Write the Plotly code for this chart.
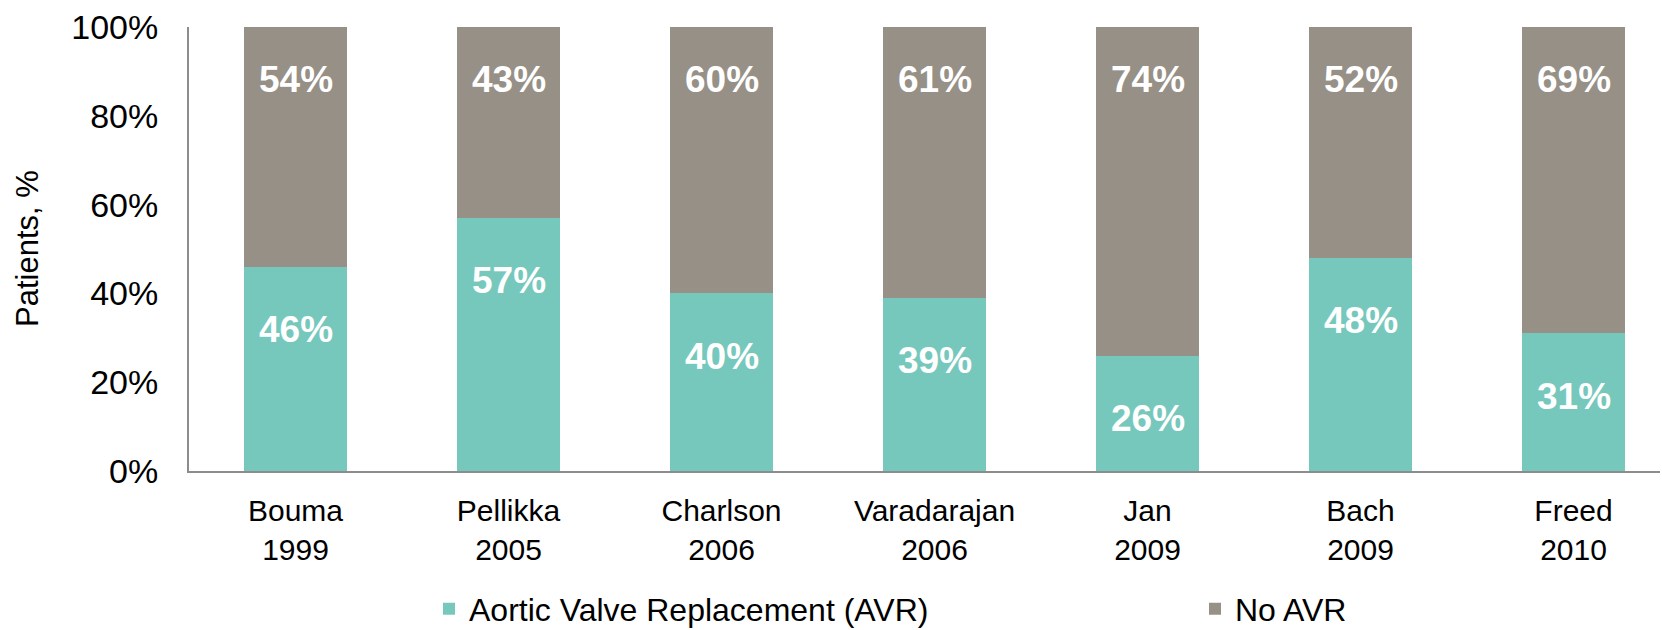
import plotly.graph_objects as go

categories = ["Bouma<br>1999", "Pellikka<br>2005", "Charlson<br>2006", "Varadarajan<br>2006",
              "Jan<br>2009", "Bach<br>2009", "Freed<br>2010"]
avr = [46, 57, 40, 39, 26, 48, 31]
no_avr = [54, 43, 60, 61, 74, 52, 69]
y_ticks = [0, 20, 40, 60, 80, 100]
y_tick_labels = ["0%", "20%", "40%", "60%", "80%", "100%"]

TEAL = "#77C8BC"
GRAY = "#979086"
FONT = "Liberation Sans, Arial, sans-serif"
BAR_W = 0.485

fig = go.Figure()
fig.add_trace(go.Bar(
    x=categories, y=avr, name="Aortic Valve Replacement (AVR)",
    marker=dict(color=TEAL, line=dict(width=0)), width=BAR_W, legend="legend",
    hoverinfo="skip",
))
fig.add_trace(go.Bar(
    x=categories, y=no_avr, name="No AVR",
    marker=dict(color=GRAY, line=dict(width=0)), width=BAR_W, legend="legend2",
    hoverinfo="skip",
))

annotations = []
for c, a, n in zip(categories, avr, no_avr):
    annotations.append(dict(
        x=c, y=a, xref="x", yref="y", text=f"<b>{a}%</b>", showarrow=False,
        yanchor="middle", yshift=-63,
        font=dict(family=FONT, size=37, color="white"),
    ))
    annotations.append(dict(
        x=c, y=a + n, xref="x", yref="y", text=f"<b>{n}%</b>", showarrow=False,
        yanchor="middle", yshift=-52,
        font=dict(family=FONT, size=37, color="white"),
    ))
annotations.append(dict(
    x=(27 - 189) / 1471, y=0.5, xref="paper", yref="paper", text="Patients, %",
    showarrow=False, textangle=-90, xanchor="center", yanchor="middle",
    font=dict(family=FONT, size=31, color="black"),
))

fig.update_layout(
    width=1662, height=630,
    margin=dict(l=189, r=2, t=27, b=159, autoexpand=False),
    paper_bgcolor="white", plot_bgcolor="white",
    barmode="stack",
    font=dict(family=FONT, color="black"),
    showlegend=True,
    legend=dict(
        orientation="h", xref="container", yref="container",
        x=429 / 1662, y=1 - 609 / 630, xanchor="left", yanchor="middle",
        font=dict(family=FONT, size=32, color="black"), bgcolor="rgba(0,0,0,0)",
    ),
    legend2=dict(
        orientation="h", xref="container", yref="container",
        x=1195 / 1662, y=1 - 609 / 630, xanchor="left", yanchor="middle",
        font=dict(family=FONT, size=32, color="black"), bgcolor="rgba(0,0,0,0)",
    ),
    xaxis=dict(
        range=[-0.5, 6.406], showgrid=False, zeroline=False,
        showline=True, linecolor="#8C8C8C", linewidth=2,
        ticks="", tickfont=dict(family=FONT, size=30, color="black"),
        ticklabelstandoff=12, fixedrange=True, automargin=False,
    ),
    yaxis=dict(
        range=[0, 100], tickvals=y_ticks, ticktext=y_tick_labels,
        showgrid=False, zeroline=False,
        showline=True, linecolor="#8C8C8C", linewidth=2,
        ticks="", tickfont=dict(family=FONT, size=34, color="black"),
        ticklabelstandoff=22, fixedrange=True, automargin=False,
    ),
    annotations=annotations,
)

fig.write_html(
    "out.html",
    config={"displayModeBar": False},
    post_script="document.body.style.margin='0';document.body.style.overflow='hidden';",
)
